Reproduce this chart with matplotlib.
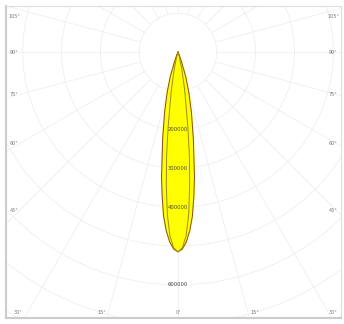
import numpy as np
import matplotlib
matplotlib.use("Agg")
import matplotlib.pyplot as plt

# luminous intensity (cd) vs angle from nadir, two C-planes
angles = [0, 1.25, 2.5, 3.75, 5, 6.25, 7.5, 10, 12.5, 15, 17.5, 20, 22.5, 25, 30, 45, 60, 75, 90]
c0_cd = [515000, 508000, 490000, 462000, 425000, 375000, 325000, 228000, 160000,
         108000, 66000, 24000, 8000, 2000, 0, 0, 0, 0, 0]
c90_cd = [515000, 505000, 475000, 420000, 345000, 270000, 195000, 98000, 44000,
          15000, 3000, 0, 0, 0, 0, 0, 0, 0, 0]

ring_values = [100000, 200000, 300000, 400000, 500000, 600000, 700000, 800000, 900000]
ring_labels = {200000: "200000", 300000: "300000", 400000: "400000", 600000: "600000"}
side_angles = [105, 90, 75, 60, 45]
bottom_angles = [30, 15, 0, 15, 30]

fig = plt.figure(figsize=(3.44, 3.24), dpi=100)
ax = fig.add_axes([6 / 344, 6 / 324, 335 / 344, 312 / 324])

px = 1e5 / 38.8  # cd per pixel
xmin, xmax = -172 * px, 163 * px
ymin, ymax = -266 * px, 46 * px
ax.set_xlim(xmin, xmax)
ax.set_ylim(ymin, ymax)
ax.set_aspect("equal")

grid_c = "#ececec"
t = np.linspace(0, 2 * np.pi, 400)
for r in ring_values:
    ax.plot(r * np.cos(t), r * np.sin(t), color=grid_c, lw=0.5, zorder=1)
for a in range(0, 360, 15):
    th = np.radians(a)
    ax.plot([1e5 * np.sin(th), 1e6 * np.sin(th)], [-1e5 * np.cos(th), -1e6 * np.cos(th)],
            color=grid_c, lw=0.5, zorder=1)

# curves, mirrored about nadir
th = np.radians(np.array(angles))
full_th = np.concatenate([-th[::-1], th[1:]])
for vals, fc, ec, z in [(c0_cd, "#ffff00", "#8b4a2a", 3), (c90_cd, "none", "#a08a20", 4)]:
    v = np.array(vals, dtype=float)
    full_v = np.concatenate([v[::-1], v[1:]])
    x = full_v * np.sin(full_th)
    y = -full_v * np.cos(full_th)
    if fc != "none":
        ax.fill(x, y, color=fc, zorder=z)
    ax.plot(x, y, color=ec, lw=0.7, zorder=z, solid_joinstyle="round")

for r, s in ring_labels.items():
    ax.text(0, -r, s, fontsize=3.8, color="#444444", ha="center", va="center", zorder=5)

# angle labels at frame edges
lab_c = "#777777"
dx = 158 * px
for a in side_angles:
    yy = -dx / np.tan(np.radians(a)) if a != 90 else 0
    yy = min(yy, ymax - 11 * px)
    ax.text(xmin + 8 * px, yy, f"{a}°", fontsize=3.5, color=lab_c, ha="center", va="center")
    ax.text(xmax - 8 * px, yy, f"{a}°", fontsize=3.5, color=lab_c, ha="center", va="center")
for i, a in enumerate(bottom_angles):
    sgn = -1 if i < 2 else 1
    xx = sgn * 285 * px * np.tan(np.radians(a))
    xx = min(max(xx, xmin + 12 * px), xmax - 8 * px)
    ax.text(xx, ymin + 6 * px, f"{a}°", fontsize=3.5, color=lab_c, ha="center", va="center")

ax.set_xticks([])
ax.set_yticks([])
for s in ax.spines.values():
    s.set_color("#dddddd")
    s.set_linewidth(0.8)
ax.spines["left"].set_color("#cccccc")
ax.spines["left"].set_linewidth(1.5)
ax.spines["bottom"].set_color("#cccccc")
ax.spines["bottom"].set_linewidth(1.5)

fig.savefig("out.png", dpi=100)
